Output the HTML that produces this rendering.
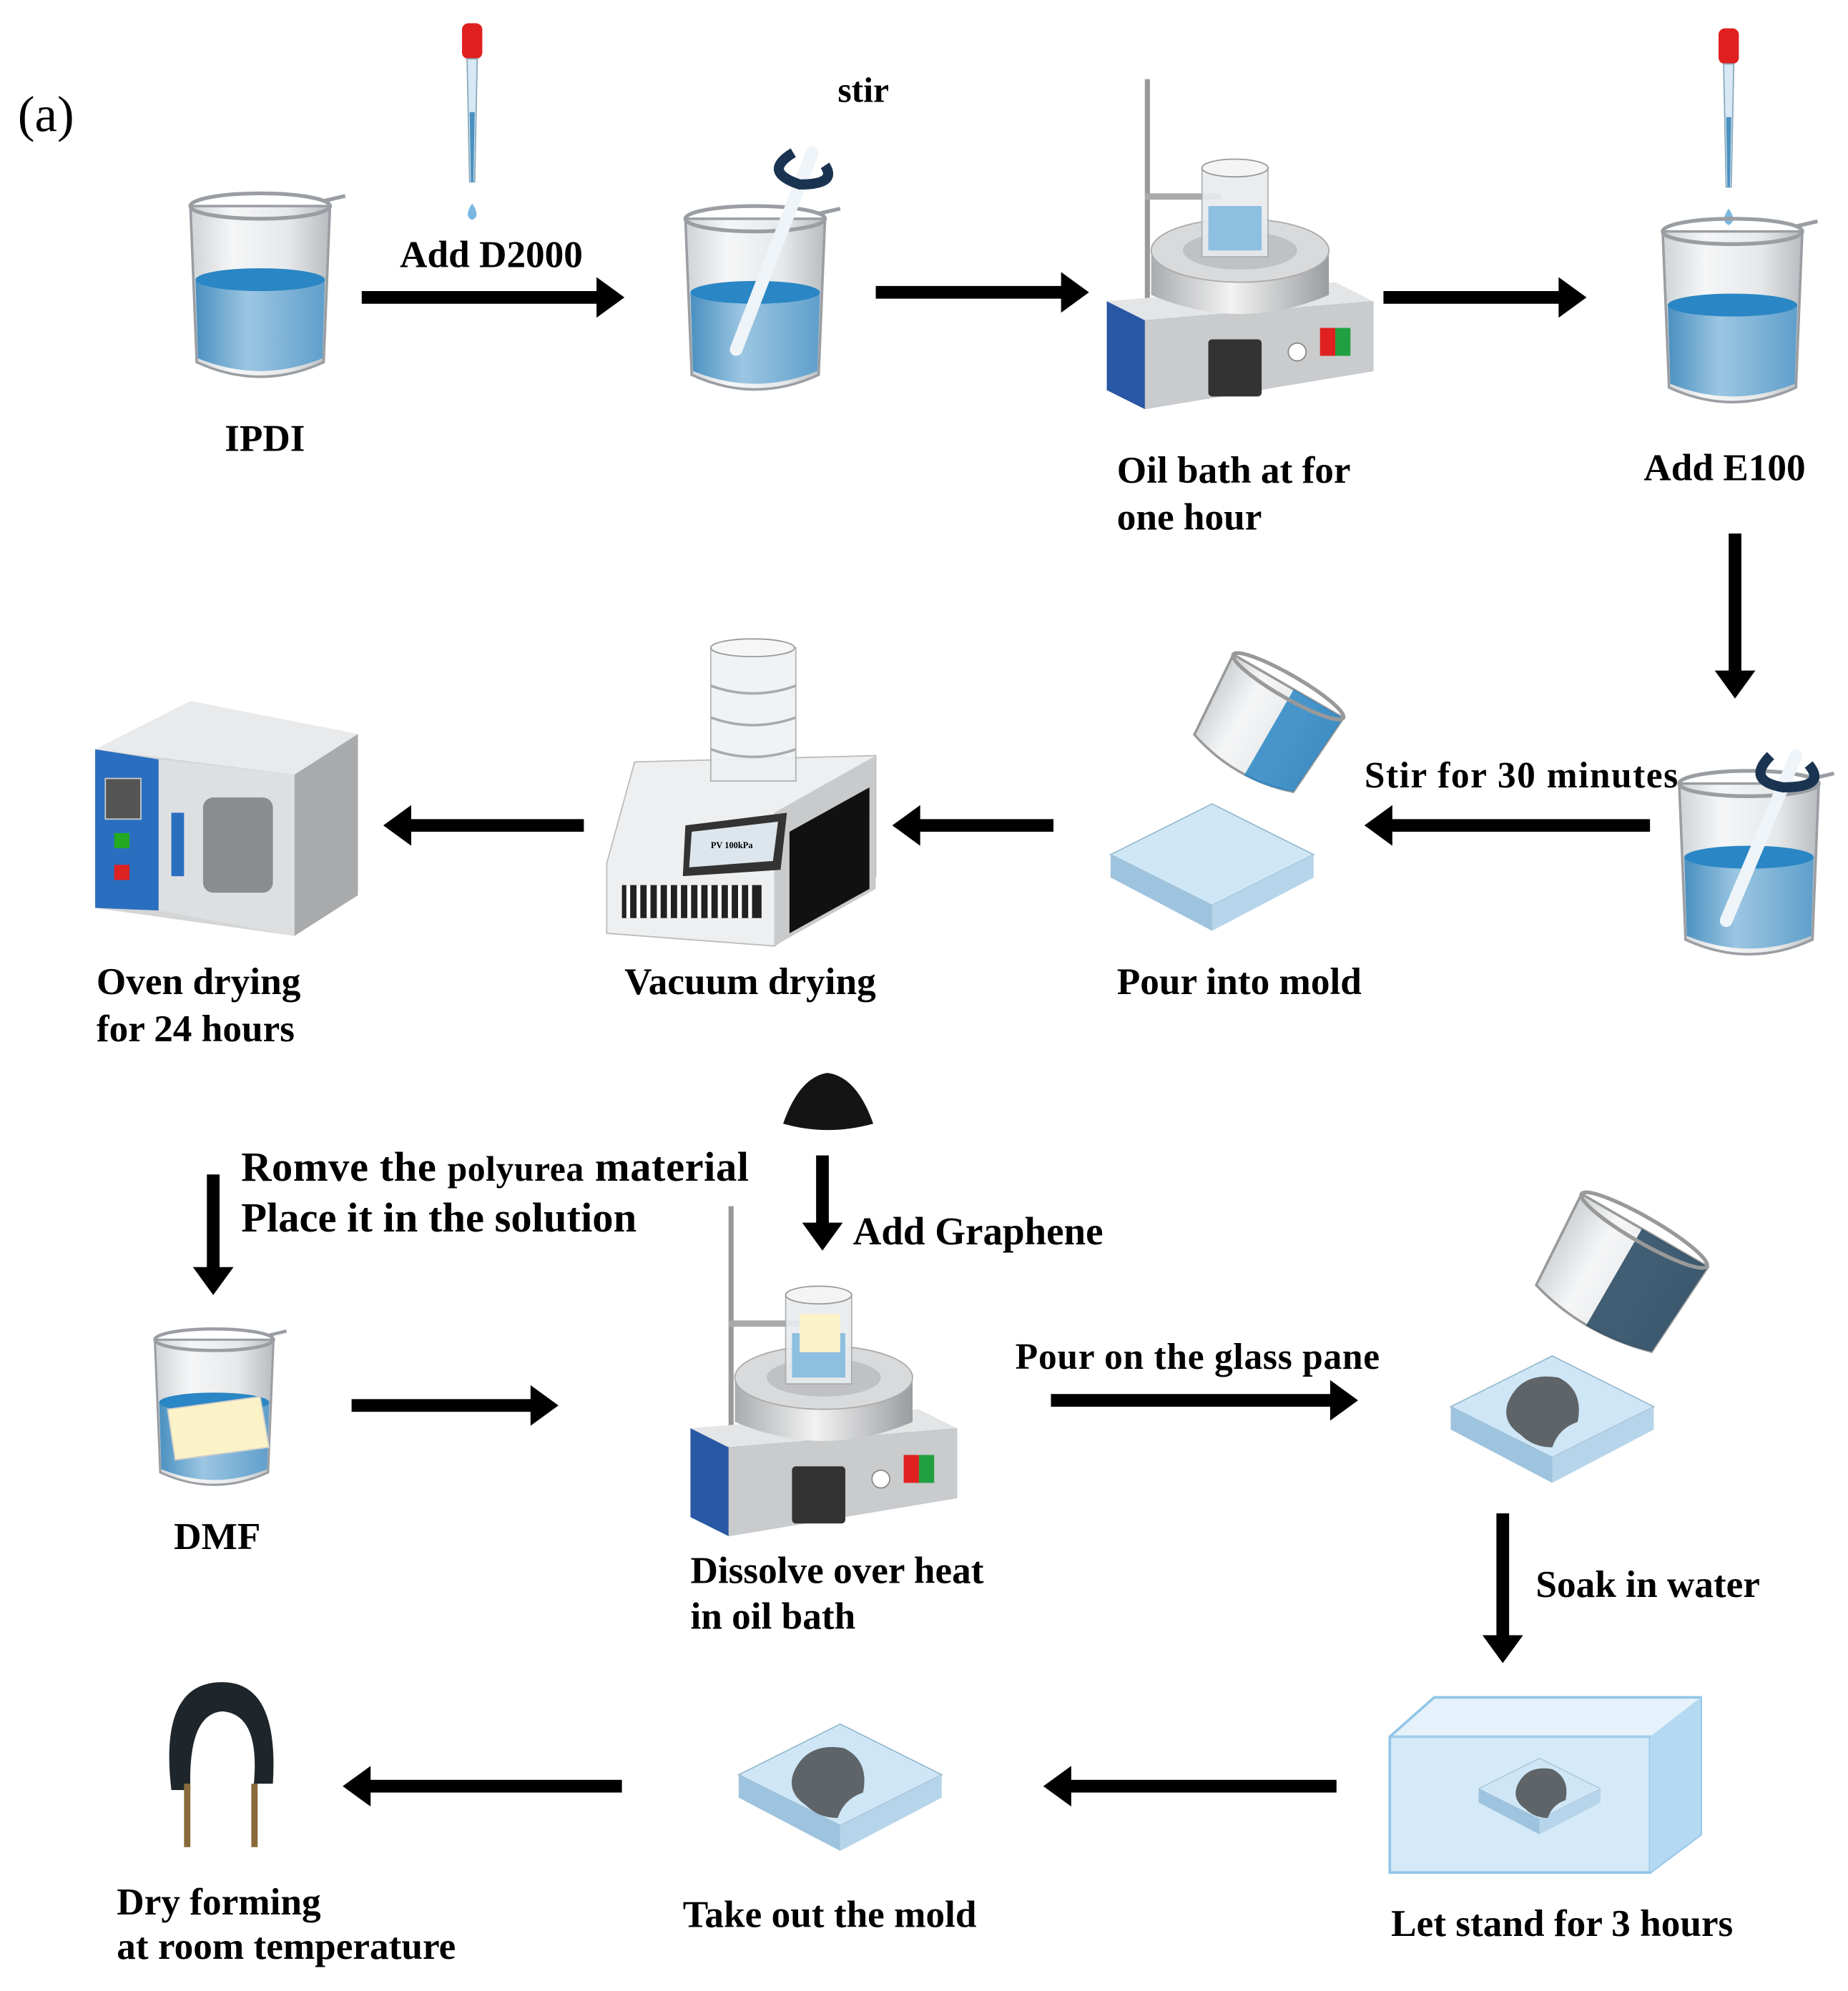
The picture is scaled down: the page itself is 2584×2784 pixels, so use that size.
<!DOCTYPE html>
<html><head><meta charset="utf-8"><style>
html,body{margin:0;padding:0;background:#fff}
svg{display:block}
text{font-family:"Liberation Serif",serif;font-weight:bold;fill:#000}
</style></head><body>
<svg width="2584" height="2784" viewBox="0 0 1456 1568" xmlns="http://www.w3.org/2000/svg">
<defs>
<linearGradient id="glass" x1="0" x2="1"><stop offset="0" stop-color="#cfd3d6"/><stop offset="0.3" stop-color="#f5f6f7"/><stop offset="0.7" stop-color="#e6e8ea"/><stop offset="1" stop-color="#b8bcc0"/></linearGradient>
<linearGradient id="liq" x1="0" x2="1"><stop offset="0" stop-color="#4a90c0"/><stop offset="0.4" stop-color="#9cc6e2"/><stop offset="1" stop-color="#5f9fcb"/></linearGradient>
<linearGradient id="metal" x1="0" x2="1"><stop offset="0" stop-color="#a9acaf"/><stop offset="0.45" stop-color="#f2f2f2"/><stop offset="1" stop-color="#9a9da0"/></linearGradient>
<g id="beaker">
<path d="M0,12 L5,135 Q55,158 105,135 L110,12 Z" fill="url(#glass)" stroke="#9a9ea2" stroke-width="2"/>
<path d="M4,70 L6,132 Q55,152 104,132 L106,70 Z" fill="url(#liq)"/>
<ellipse cx="55" cy="70" rx="51" ry="9" fill="#2a86c4"/>
<ellipse cx="55" cy="12" rx="55" ry="10" fill="none" stroke="#9a9ea2" stroke-width="3"/>
<path d="M105,8 L122,4" stroke="#9a9ea2" stroke-width="3"/>
</g>
<g id="heater">
<rect x="30" y="0" width="4" height="190" fill="#999"/>
<rect x="30" y="90" width="60" height="5" fill="#aaa"/>
<path d="M0,175 L210,175 L210,230 L30,260 L0,245 Z" fill="#2857a4"/>
<path d="M30,190 L210,175 L210,230 L30,260 Z" fill="#c9cbcd"/>
<path d="M0,175 L180,160 L210,175 L30,190 Z" fill="#e4e5e6"/>
<path d="M35,135 L35,170 Q105,200 175,170 L175,135 Z" fill="url(#metal)"/>
<ellipse cx="105" cy="135" rx="70" ry="25" fill="#d9dadb" stroke="#aaa"/>
<ellipse cx="105" cy="135" rx="45" ry="15" fill="#bfc1c3"/>
<rect x="75" y="70" width="52" height="70" fill="#e8ecef" opacity="0.9" stroke="#aaa"/>
<ellipse cx="101" cy="70" rx="26" ry="7" fill="#f4f4f4" stroke="#999"/>
<rect x="80" y="100" width="42" height="35" fill="#8dbfe0"/>
<rect x="80" y="205" width="42" height="45" fill="#333" rx="3"/>
<circle cx="150" cy="215" r="7" fill="#fff" stroke="#888"/>
<rect x="168" y="196" width="12" height="22" fill="#e02020"/><rect x="180" y="196" width="12" height="22" fill="#20a040"/>
</g>
<g id="plate">
<path d="M0,40 L80,0 L160,40 L80,80 Z" fill="#cfe6f6" stroke="#9cbbd0"/>
<path d="M0,40 L80,80 L80,100 L0,58 Z" fill="#9ec3de"/>
<path d="M80,80 L160,40 L160,58 L80,100 Z" fill="#b7d5ea"/>
</g>
<g id="blob"><path d="M0,25 Q10,0 40,5 Q60,15 55,40 Q40,45 35,60 Q20,60 10,50 Q-5,40 0,25 Z" fill="#5e6468"/></g>
<g id="pipette">
<rect x="-8" y="0" width="16" height="28" rx="5" fill="#e02020"/>
<path d="M-4,28 L4,28 L2,125 L-2,125 Z" fill="#d8e8f4" stroke="#8ab" stroke-width="1"/>
<path d="M-2,70 L2,70 L1,125 L-1,125Z" fill="#4a90c0"/>
<path d="M0,142 Q-7,152 0,155 Q7,152 0,142Z" fill="#7ab8e0"/>
</g>
</defs>

<text x="14" y="103" font-size="40" style="font-weight:normal">(a)</text>

<!-- row 1 -->
<use href="#beaker" x="150" y="150"/>
<use href="#pipette" x="372" y="18"/>
<use href="#beaker" x="540" y="160"/>
<path d="M580,275 L640,120" stroke="#eef4f8" stroke-width="10" stroke-linecap="round"/>
<path d="M625,120 Q600,135 630,145 Q660,145 650,130" fill="none" stroke="#1a3350" stroke-width="8"/>
<use href="#heater" x="872" y="62"/>
<use href="#pipette" x="1362" y="22"/>
<use href="#beaker" x="1310" y="170"/>

<!-- row 2 -->
<use href="#beaker" x="1323" y="605"/>
<path d="M1360,725 L1415,595" stroke="#eef4f8" stroke-width="10" stroke-linecap="round"/>
<path d="M1395,595 Q1375,615 1405,620 Q1440,620 1425,602" fill="none" stroke="#1a3350" stroke-width="8"/>
<use href="#plate" x="875" y="633"/>
<g transform="translate(945,525) rotate(30 50 50)">
<path d="M0,10 L5,80 Q50,95 95,80 L100,10Z" fill="url(#glass)" stroke="#999" stroke-width="2"/>
<path d="M55,10 L100,10 L95,80 Q75,88 55,88Z" fill="#2a86c4" opacity="0.85"/>
<ellipse cx="50" cy="10" rx="50" ry="9" fill="none" stroke="#999" stroke-width="3"/>
</g>
<!-- vacuum dryer -->
<g>
<path d="M478,680 L500,600 L690,595 L690,690 L610,745 L478,735Z" fill="#eeeff0" stroke="#bbb"/>
<path d="M610,640 L690,595 L690,700 L610,745Z" fill="#c8cacc"/>
<path d="M622,655 L685,620 L685,700 L622,735Z" fill="#111"/>
<path d="M540,650 L620,640 L615,685 L538,690Z" fill="#333"/>
<path d="M545,655 L613,647 L609,678 L543,683Z" fill="#dde6ec"/>
<text x="560" y="668" font-size="7">PV 100kPa</text>
<g fill="#222"><rect x="490" y="697" width="110" height="26"/></g>
<g stroke="#fff" stroke-width="3"><path d="M495,697v26M503,697v26M511,697v26M519,697v26M527,697v26M535,697v26M543,697v26M551,697v26M559,697v26M567,697v26M575,697v26M583,697v26M591,697v26"/></g>
<rect x="560" y="510" width="67" height="105" fill="#eef2f4" opacity="0.9" stroke="#aaa"/>
<ellipse cx="593" cy="510" rx="33" ry="7" fill="#f6f6f6" stroke="#999"/>
<path d="M560,540 Q593,552 627,540 M560,565 Q593,577 627,565 M560,590 Q593,602 627,590" fill="none" stroke="#aaa" stroke-width="2"/>
</g>
<!-- oven -->
<g>
<path d="M75,590 L150,552 L282,578 L282,705 L232,737 L75,715Z" fill="#d4d5d6"/>
<path d="M75,590 L150,552 L282,578 L232,610Z" fill="#e9eaeb"/>
<path d="M232,610 L282,578 L282,705 L232,737Z" fill="#a8aaac"/>
<path d="M75,590 L125,598 L125,717 L75,715Z" fill="#2a6ec0"/>
<path d="M125,598 L232,610 L232,737 L125,717Z" fill="#dedfe0"/>
<rect x="160" y="628" width="55" height="75" rx="8" fill="#8a8c8e"/>
<rect x="83" y="613" width="28" height="32" fill="#555" stroke="#ccc"/>
<rect x="90" y="656" width="12" height="12" fill="#2a2"/><rect x="90" y="681" width="12" height="12" fill="#d22"/>
<rect x="135" y="640" width="10" height="50" fill="#2a6ec0"/>
</g>

<!-- row 3 -->
<path d="M617,885 Q630,848 652,845 Q675,848 688,885 Q652,895 617,885Z" fill="#141414"/>
<use href="#beaker" transform="translate(122 1045) scale(0.85)"/>
<path d="M132,1110 L205,1100 L212,1140 L138,1150Z" fill="#fbf3c8" stroke="#ccc"/>
<use href="#heater" x="544" y="950"/>
<rect x="630" y="1035" width="32" height="30" fill="#fbf3c8"/>
<use href="#plate" x="1143" y="1068"/>
<use href="#blob" x="1188" y="1080"/>
<g transform="translate(1218,955) rotate(30 60 50)">
<path d="M0,10 L5,90 Q55,105 110,90 L115,10Z" fill="url(#glass)" stroke="#999" stroke-width="2"/>
<path d="M55,10 L115,10 L110,90 Q85,98 55,98Z" fill="#2e4e66" opacity="0.9"/>
<ellipse cx="57" cy="10" rx="57" ry="10" fill="none" stroke="#999" stroke-width="3"/>
</g>

<!-- row 4 -->
<g>
<path d="M1095,1368 L1130,1337 L1340,1337 L1340,1445 L1300,1475 L1095,1475Z" fill="#e6f2fb" stroke="#8fc4e8" stroke-width="2"/>
<path d="M1095,1368 L1300,1368 L1300,1475 L1095,1475Z" fill="#d2e9f8" opacity="0.8" stroke="#8fc4e8" stroke-width="2"/>
<path d="M1300,1368 L1340,1337 L1340,1445 L1300,1475Z" fill="#b4d9f1"/>
<use href="#plate" transform="translate(1165,1385) scale(0.6)"/>
<use href="#blob" transform="translate(1195,1390) scale(0.7)"/>
</g>
<use href="#plate" x="582" y="1358"/>
<use href="#blob" x="625" y="1372"/>
<g>
<path d="M135,1410 Q125,1325 175,1325 Q220,1325 215,1405 L200,1405 Q205,1350 175,1348 Q148,1350 150,1410Z" fill="#1e262b"/>
<rect x="145" y="1405" width="5" height="50" fill="#8a6a3a"/><rect x="198" y="1405" width="5" height="50" fill="#8a6a3a"/>
</g>

<!-- arrows -->
<g fill="#000">
<path d="M285,229 h185 v-11 l22,16 l-22,16 v-11 h-185z"/>
<path d="M690,225 h146 v-11 l22,16 l-22,16 v-11 h-146z"/>
<path d="M1090,229 h138 v-11 l22,16 l-22,16 v-11 h-138z"/>
<path d="M1362,420 v108 h-11 l16,22 l16,-22 h-11 v-108z"/>
<path d="M1300,645 h-203 v-11 l-22,16 l22,16 v-11 h203z"/>
<path d="M830,645 h-105 v-11 l-22,16 l22,16 v-11 h105z"/>
<path d="M460,645 h-136 v-11 l-22,16 l22,16 v-11 h136z"/>
<path d="M163,925 v73 h-11 l16,22 l16,-22 h-11 v-73z"/>
<path d="M643,910 v53 h-11 l16,22 l16,-22 h-11 v-53z"/>
<path d="M277,1102 h141 v-11 l22,16 l-22,16 v-11 h-141z"/>
<path d="M828,1098 h220 v-11 l22,16 l-22,16 v-11 h-220z"/>
<path d="M1179,1192 v96 h-11 l16,22 l16,-22 h-11 v-96z"/>
<path d="M1053,1402 h-209 v-11 l-22,16 l22,16 v-11 h209z"/>
<path d="M490,1402 h-198 v-11 l-22,16 l22,16 v-11 h198z"/>
</g>

<!-- labels -->
<g font-size="30">
<text x="660" y="80" font-size="28">stir</text>
<text x="315" y="210">Add D2000</text>
<text x="177" y="355">IPDI</text>
<text x="880" y="380">Oil bath at for</text>
<text x="880" y="417">one hour</text>
<text x="1295" y="378">Add E100</text>
<text x="1075" y="620" font-size="29" textLength="247">Stir for 30 minutes</text>
<text x="76" y="783">Oven drying</text>
<text x="76" y="820">for 24 hours</text>
<text x="492" y="783">Vacuum drying</text>
<text x="880" y="783">Pour into mold</text>
<text x="190" y="930" font-size="33" textLength="400">Romve the <tspan font-size="28">polyurea</tspan> material</text>
<text x="190" y="970" font-size="33">Place it in the solution</text>
<text x="672" y="980" font-size="31">Add Graphene</text>
<text x="137" y="1220">DMF</text>
<text x="800" y="1078" font-size="29" textLength="287">Pour on the glass pane</text>
<text x="544" y="1247">Dissolve over heat</text>
<text x="544" y="1283">in oil bath</text>
<text x="1210" y="1258">Soak in water</text>
<text x="92" y="1508">Dry forming</text>
<text x="92" y="1543">at room temperature</text>
<text x="538" y="1518">Take out the mold</text>
<text x="1096" y="1525">Let stand for 3 hours</text>
</g>
</svg>
</body></html>
